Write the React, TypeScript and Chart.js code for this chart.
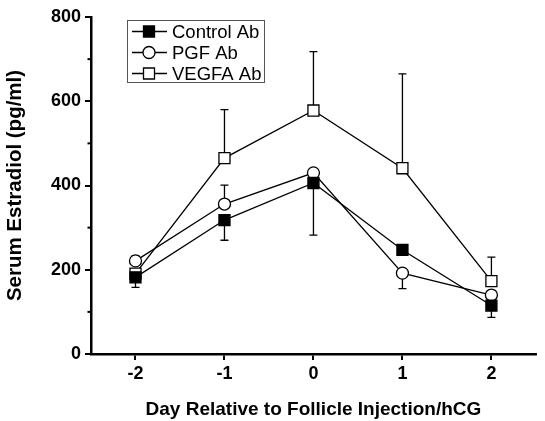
import React, { useEffect, useRef } from 'react';
import { Chart, registerables } from 'chart.js';
Chart.register(...registerables);

const days = [-2, -1, 0, 1, 2];
const seriesNames = ['Control Ab', 'PGF Ab', 'VEGFA Ab'];
const controlVals = [182, 318, 406, 247, 115];
const pgfVals = [221, 356, 430, 192, 140];
const vegfaVals = [191, 465, 578, 441, 173];
const controlErrUp = [0, 0, 0, 0, 0];
const controlErrDown = [24, 48, 124, 0, 28];
const pgfErrUp = [12, 45, 0, 0, 0];
const pgfErrDown = [0, 0, 0, 37, 0];
const vegfaErrUp = [0, 115, 140, 224, 57];
const vegfaErrDown = [0, 0, 0, 0, 0];
const yMajorTicks = [0, 200, 400, 600, 800];
const yMinorTicks = [100, 300, 500, 700];

const FONT = "'Liberation Sans', Arial, sans-serif";

const errorBarPlugin = {
  id: 'errorBars',
  beforeDatasetsDraw(chart: any) {
    const ctx = chart.ctx;
    const ys = chart.scales.y;
    ctx.save();
    ctx.strokeStyle = '#000';
    ctx.lineWidth = 1.3;
    chart.data.datasets.forEach((ds: any, i: number) => {
      const meta = chart.getDatasetMeta(i);
      meta.data.forEach((pt: any, j: number) => {
        const v = ds.data[j].y;
        const up = ds.errUp[j];
        const down = ds.errDown[j];
        const cap = 4;
        [v + up, v - down].forEach((end, k) => {
          if ((k === 0 ? up : down) <= 0) return;
          const yy = ys.getPixelForValue(end);
          ctx.beginPath();
          ctx.moveTo(pt.x, pt.y);
          ctx.lineTo(pt.x, yy);
          ctx.moveTo(pt.x - cap, yy);
          ctx.lineTo(pt.x + cap, yy);
          ctx.stroke();
        });
      });
    });
    ctx.restore();
  },
};

const minorTickPlugin = {
  id: 'minorTicks',
  afterDraw(chart: any) {
    const ctx = chart.ctx;
    const ys = chart.scales.y;
    const left = chart.chartArea.left;
    ctx.save();
    ctx.strokeStyle = '#000';
    ctx.lineWidth = 2;
    yMinorTicks.forEach((v) => {
      const yy = ys.getPixelForValue(v);
      ctx.beginPath();
      ctx.moveTo(left, yy);
      ctx.lineTo(left - 3.5, yy);
      ctx.stroke();
    });
    ctx.restore();
  },
};

const legendPlugin = {
  id: 'boxLegend',
  afterDraw(chart: any) {
    const ctx = chart.ctx;
    const bx = 127, by = 20, bw = 137, bh = 62;
    ctx.save();
    ctx.fillStyle = '#fff';
    ctx.fillRect(bx, by, bw, bh);
    ctx.strokeStyle = '#555';
    ctx.lineWidth = 1;
    ctx.strokeRect(bx + 0.5, by + 0.5, bw, bh);
    chart.data.datasets.forEach((ds: any, i: number) => {
      const cy = by + 11.5 + i * 21;
      const cx = 149;
      ctx.strokeStyle = '#000';
      ctx.lineWidth = 1.3;
      ctx.beginPath();
      ctx.moveTo(132, cy);
      ctx.lineTo(167, cy);
      ctx.stroke();
      ctx.fillStyle = ds.pointBackgroundColor;
      ctx.beginPath();
      if (ds.pointStyle === 'circle') {
        ctx.arc(cx, cy, 6, 0, Math.PI * 2);
      } else {
        ctx.rect(cx - 5.5, cy - 5.5, 11, 11);
      }
      ctx.fill();
      ctx.stroke();
      ctx.fillStyle = '#000';
      ctx.font = `18.5px ${FONT}`;
      ctx.textBaseline = 'middle';
      ctx.textAlign = 'left';
      ctx.fillText(ds.label, 172, cy + 1);
    });
    ctx.restore();
  },
};

function mk(vals: number[]) {
  return days.map((d, i) => ({ x: d, y: vals[i] }));
}

export default function App() {
  const ref = useRef<HTMLCanvasElement>(null);
  useEffect(() => {
    const common = {
      showLine: true,
      borderColor: '#000',
      borderWidth: 1.3,
      pointBorderColor: '#000',
      pointBorderWidth: 1.3,
      pointHoverRadius: 0,
    };
    const chart = new Chart(ref.current!, {
      type: 'scatter',
      data: {
        datasets: [
          { ...common, label: seriesNames[0], data: mk(controlVals), errUp: controlErrUp, errDown: controlErrDown, pointStyle: 'rect', pointRadius: 7.8, pointBackgroundColor: '#000' } as any,
          { ...common, label: seriesNames[1], data: mk(pgfVals), errUp: pgfErrUp, errDown: pgfErrDown, pointStyle: 'circle', pointRadius: 6, pointBackgroundColor: '#fff' } as any,
          { ...common, label: seriesNames[2], data: mk(vegfaVals), errUp: vegfaErrUp, errDown: vegfaErrDown, pointStyle: 'rect', pointRadius: 7.8, pointBackgroundColor: '#fff' } as any,
        ],
      },
      options: {
        animation: false,
        responsive: false,
        layout: { padding: { top: 17, right: 2, left: 0, bottom: 0 } },
        plugins: { legend: { display: false }, tooltip: { enabled: false } },
        scales: {
          x: {
            type: 'linear',
            min: -2.5,
            max: 2.5,
            afterBuildTicks: (s: any) => { s.ticks = days.map((v) => ({ value: v })); },
            afterFit: (s: any) => { s.height = 67; },
            border: { display: true, color: '#000', width: 2.5 },
            grid: { drawOnChartArea: false, drawTicks: true, tickLength: 6, color: '#000', lineWidth: 2 },
            ticks: { color: '#000', padding: 3, font: { family: FONT, size: 18, weight: 'bold' }, maxRotation: 0 },
            title: { display: true, text: 'Day Relative to Follicle Injection/hCG', color: '#000', font: { family: FONT, size: 19, weight: 'bold' }, padding: { top: 0, bottom: 0 } },
          },
          y: {
            type: 'linear',
            min: 0,
            max: 800,
            afterBuildTicks: (s: any) => { s.ticks = yMajorTicks.map((v) => ({ value: v })); },
            afterFit: (s: any) => { s.width = 91; },
            border: { display: true, color: '#000', width: 2.5 },
            grid: { drawOnChartArea: false, drawTicks: true, tickLength: 6, color: '#000', lineWidth: 2 },
            ticks: { color: '#000', padding: 4, font: { family: FONT, size: 18, weight: 'bold' } },
            title: { display: true, text: 'Serum Estradiol (pg/ml)', color: '#000', font: { family: FONT, size: 20.5, weight: 'bold' }, padding: { top: 3, bottom: 0 } },
          },
        },
      } as any,
      plugins: [errorBarPlugin, minorTickPlugin, legendPlugin],
    });
    return () => chart.destroy();
  }, []);
  return (
    <div style={{ position: 'fixed', left: 0, top: 0, width: 545, height: 421, background: '#fff' }}>
      <canvas ref={ref} width={545} height={421} style={{ display: 'block', width: 545, height: 421 }} />
    </div>
  );
}
